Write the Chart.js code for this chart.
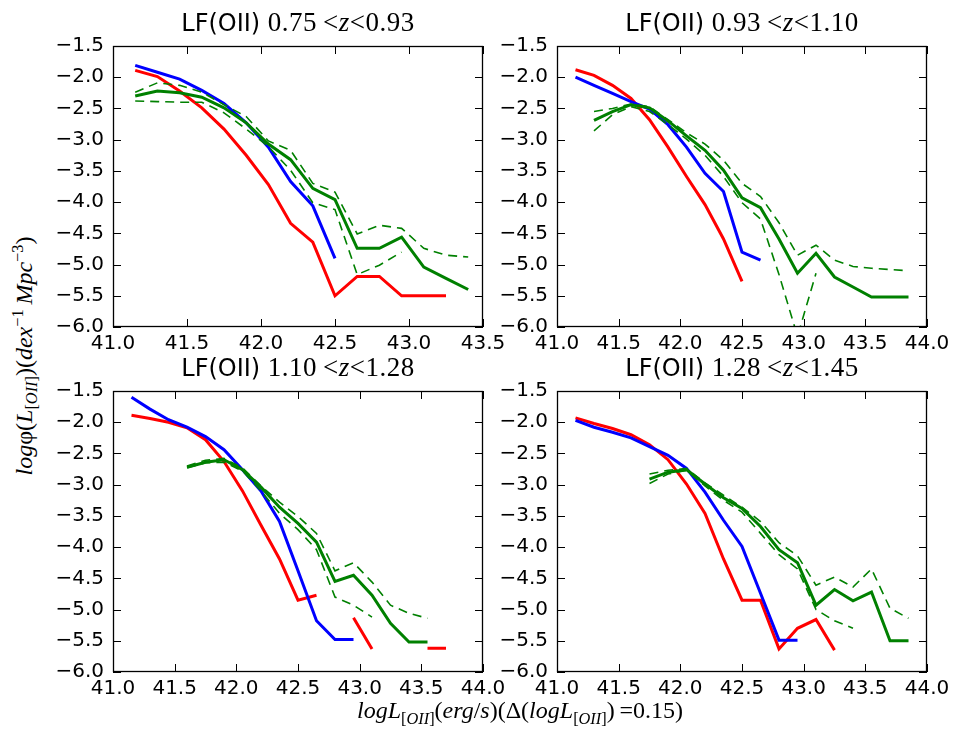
<!DOCTYPE html>
<html>
<head>
<meta charset="utf-8">
<script src="https://cdn.jsdelivr.net/npm/chart.js@4.4.0/dist/chart.umd.min.js"></script>
<style>
  body { margin: 0; background: #fff; }
  #fig { position: relative; width: 955px; height: 738px; overflow: hidden; }
  #fig canvas { position: absolute; }
  .title { position: absolute; width: 370px; text-align: center; font-family: "DejaVu Sans"; font-size: 24px; line-height: 24px; color: #000; white-space: nowrap; }
  .title .m { font-family: "Liberation Serif"; font-size: 27px; letter-spacing: 0.5px; }
  .lab { position: absolute; font-family: "Liberation Serif"; font-size: 24px; color: #000; white-space: nowrap; }
  .lab sub { font-size: 68%; vertical-align: -0.35em; }
  .lab sup { font-size: 68%; vertical-align: 0.55em; }
</style>
</head>
<body>
<div id="fig">
  <canvas id="c1" width="470" height="337"></canvas>
  <canvas id="c2" width="470" height="337"></canvas>
  <canvas id="c3" width="470" height="337"></canvas>
  <canvas id="c4" width="470" height="337"></canvas>
  <div class="title" id="t1"></div>
  <div class="title" id="t2"></div>
  <div class="title" id="t3"></div>
  <div class="title" id="t4"></div>
  <div class="lab" id="ylab"><i>log</i>&#966;(<i>L</i><sub>[<i>OII</i>]</sub>)(<i>dex</i><sup>&#8722;1</sup>&#8201;<i>Mpc</i><sup>&#8722;3</sup>)</div>
  <div class="lab" id="xlab"><i>logL</i><sub>[<i>OII</i>]</sub>(<i>erg</i>/<i>s</i>)(&#916;(<i>logL</i><sub>[<i>OII</i>]</sub>)&#8201;=0.15)</div>
</div>
<script>
// luminosity bins (log L[OII]), step 0.15
var logL = [41.15, 41.30, 41.45, 41.60, 41.75, 41.90, 42.05, 42.20, 42.35, 42.50,
            42.65, 42.80, 42.95, 43.10, 43.25, 43.40, 43.55, 43.70, 43.85];

var zLow = ["0.75", "0.93", "1.10", "1.28"];
var zHigh = ["0.93", "1.10", "1.28", "1.45"];
var xMax = [43.5, 44.0, 44.0, 44.0];
var yMin = -6.0, yMax = -1.5;

// 0.75 < z < 0.93
var red1 = [-1.89, -1.99, -2.22, -2.49, -2.83, -3.25, -3.72, -4.34, -4.64, -5.50, -5.19, -5.19, -5.50, -5.50, -5.50, null, null, null, null];
var blue1 = [-1.81, -1.92, -2.03, -2.21, -2.42, -2.73, -3.12, -3.67, -4.06, -4.90, null, null, null, null, null, null, null, null, null];
var green1 = [-2.30, -2.22, -2.25, -2.32, -2.49, -2.73, -3.07, -3.32, -3.78, -3.96, -4.74, -4.74, -4.56, -5.04, -5.22, -5.40, null, null, null];
var green1Hi = [-2.24, -2.09, -2.13, -2.24, -2.44, -2.63, -3.02, -3.17, -3.70, -3.84, -4.51, -4.37, -4.42, -4.74, -4.85, -4.88, null, null, null];
var green1Lo = [-2.38, -2.39, -2.40, -2.40, -2.57, -2.83, -3.11, -3.49, -4.01, -4.12, -5.16, -5.01, -4.80, null, null, null, null, null, null];

// 0.93 < z < 1.10
var red2 = [-1.88, -1.97, -2.13, -2.34, -2.68, -3.12, -3.59, -4.04, -4.59, -5.27, null, null, null, null, null, null, null, null, null];
var blue2 = [-2.00, -2.13, -2.26, -2.39, -2.51, -2.76, -3.12, -3.54, -3.83, -4.80, -4.93, null, null, null, null, null, null, null, null];
var green2 = [null, -2.69, -2.55, -2.44, -2.49, -2.70, -2.94, -3.17, -3.49, -3.93, -4.09, -4.59, -5.14, -4.82, -5.20, -5.36, -5.52, -5.52, -5.52];
var green2Hi = [null, -2.55, -2.50, -2.43, -2.47, -2.68, -2.89, -3.07, -3.33, -3.70, -3.91, -4.33, -4.85, -4.69, -4.93, -5.03, -5.06, -5.08, -5.10];
var green2Lo = [null, -2.86, -2.60, -2.47, -2.55, -2.76, -2.99, -3.25, -3.59, -4.01, -4.27, -5.16, -6.15, -5.14, null, null, null, null, null];

// 1.10 < z < 1.28
var red3 = [-1.89, -1.94, -2.00, -2.09, -2.28, -2.63, -3.10, -3.65, -4.19, -4.85, -4.77, null, -5.13, -5.63, null, null, -5.62, -5.62, null];
var blue3 = [-1.60, -1.79, -1.96, -2.08, -2.23, -2.44, -2.76, -3.10, -3.59, -4.38, -5.18, -5.48, -5.48, null, null, null, null, null, null];
var green3 = [null, null, null, -2.72, -2.64, -2.60, -2.76, -3.04, -3.36, -3.62, -3.92, -4.55, -4.45, -4.77, -5.22, -5.52, -5.52, null, null];
var green3Hi = [null, null, null, -2.70, -2.61, -2.58, -2.73, -3.02, -3.28, -3.51, -3.78, -4.38, -4.25, -4.56, -4.93, -5.06, -5.14, null, null];
var green3Lo = [null, null, null, -2.73, -2.65, -2.64, -2.78, -3.10, -3.46, -3.72, -4.04, -4.80, -4.93, -5.12, null, null, null, null, null];

// 1.28 < z < 1.45
var red4 = [-1.93, -2.02, -2.10, -2.20, -2.36, -2.60, -2.99, -3.46, -4.19, -4.85, -4.85, -5.63, -5.30, -5.16, -5.65, null, null, null, null];
var blue4 = [-1.97, -2.08, -2.16, -2.25, -2.39, -2.53, -2.74, -3.12, -3.57, -3.99, -4.74, -5.49, -5.49, null, null, null, null, null, null];
var green4 = [null, null, null, null, -2.91, -2.80, -2.76, -2.99, -3.21, -3.38, -3.67, -4.04, -4.25, -4.93, -4.68, -4.86, -4.72, -5.50, -5.50];
var green4Hi = [null, null, null, null, -2.83, -2.77, -2.74, -2.97, -3.17, -3.36, -3.59, -3.93, -4.14, -4.61, -4.48, -4.64, -4.35, -4.98, -5.14];
var green4Lo = [null, null, null, null, -2.98, -2.83, -2.77, -3.02, -3.25, -3.44, -3.78, -4.12, -4.35, -5.00, -5.18, -5.30, null, null, null];

var panels = [
  { red: red1, blue: blue1, green: green1, hi: green1Hi, lo: green1Lo, left: 113, top: 40 },
  { red: red2, blue: blue2, green: green2, hi: green2Hi, lo: green2Lo, left: 557, top: 40 },
  { red: red3, blue: blue3, green: green3, hi: green3Hi, lo: green3Lo, left: 113, top: 385 },
  { red: red4, blue: blue4, green: green4, hi: green4Hi, lo: green4Lo, left: 557, top: 385 },
];

var PAD_L = 70, PAD_T = 15, PAD_B = 35;

function pts(arr) {
  return logL.map(function (x, i) { return { x: x, y: arr[i] }; });
}

function fmt(v) {
  return Number(v).toFixed(1).replace("-", "\u2212");
}

// matplotlib-style frame with inward ticks on all four sides
var frameTicks = {
  id: "frameTicks",
  afterDatasetsDraw: function (chart) {
    var ctx = chart.ctx, a = chart.chartArea;
    var xs = chart.scales.x, ys = chart.scales.y;
    ctx.save();
    ctx.strokeStyle = "#000";
    ctx.lineWidth = 1;
    ctx.beginPath();
    xs.ticks.forEach(function (t) {
      var px = Math.round(xs.getPixelForValue(t.value)) + 0.5;
      ctx.moveTo(px, a.top); ctx.lineTo(px, a.top + 8);
      ctx.moveTo(px, a.bottom); ctx.lineTo(px, a.bottom - 8);
    });
    ys.ticks.forEach(function (t) {
      var py = Math.round(ys.getPixelForValue(t.value)) + 0.5;
      ctx.moveTo(a.left, py); ctx.lineTo(a.left + 8, py);
      ctx.moveTo(a.right, py); ctx.lineTo(a.right - 8, py);
    });
    ctx.stroke();
    ctx.lineWidth = 1.3;
    ctx.strokeRect(a.left + 0.5, a.top + 0.5, a.right - a.left - 1, a.bottom - a.top - 1);
    ctx.restore();
  }
};

function solid(data, color) {
  return { data: pts(data), borderColor: color, borderWidth: 3, pointRadius: 0, tension: 0, spanGaps: false };
}
function dashed(data, color) {
  return { data: pts(data), borderColor: color, borderWidth: 1.6, borderDash: [9, 6], pointRadius: 0, tension: 0, spanGaps: false };
}

panels.forEach(function (p, k) {
  var cv = document.getElementById("c" + (k + 1));
  cv.style.left = (p.left - PAD_L) + "px";
  cv.style.top = (p.top - PAD_T) + "px";

  var t = document.getElementById("t" + (k + 1));
  t.style.left = p.left + "px";
  t.style.top = (p.top - 30) + "px";
  t.innerHTML = "LF(OII) <span class=\"m\">" + zLow[k] + "&#8201;&lt;<i>z</i>&lt;" + zHigh[k] + "</span>";

  new Chart(cv, {
    type: "line",
    data: {
      datasets: [
        dashed(p.hi, "#008000"),
        dashed(p.lo, "#008000"),
        solid(p.green, "#008000"),
        solid(p.blue, "#0000ff"),
        solid(p.red, "#ff0000"),
      ],
    },
    options: {
      responsive: false,
      animation: false,
      layout: { padding: { top: PAD_T, right: 30, left: 0, bottom: 0 } },
      plugins: { legend: { display: false }, tooltip: { enabled: false } },
      scales: {
        x: {
          type: "linear",
          min: 41.0,
          max: xMax[k],
          grid: { display: false, drawTicks: false },
          border: { display: false },
          ticks: {
            stepSize: 0.5,
            padding: 5,
            color: "#000",
            maxRotation: 0,
            font: { family: "DejaVu Sans", size: 20 },
            callback: function (v) { return fmt(v); },
          },
          afterFit: function (s) { s.height = PAD_B; },
        },
        y: {
          min: yMin,
          max: yMax,
          grid: { display: false, drawTicks: false },
          border: { display: false },
          ticks: {
            stepSize: 0.5,
            padding: 9,
            color: "#000",
            font: { family: "DejaVu Sans", size: 20 },
            callback: function (v) { return fmt(v); },
          },
          afterFit: function (s) { s.width = PAD_L; },
        },
      },
    },
    plugins: [frameTicks],
  });
});

var ylab = document.getElementById("ylab");
ylab.style.left = "25px";
ylab.style.top = "356px";
ylab.style.transform = "translate(-50%, -50%) rotate(-90deg)";

var xlab = document.getElementById("xlab");
xlab.style.left = "520px";
xlab.style.top = "713px";
xlab.style.transform = "translate(-50%, -50%)";
</script>
</body>
</html>
